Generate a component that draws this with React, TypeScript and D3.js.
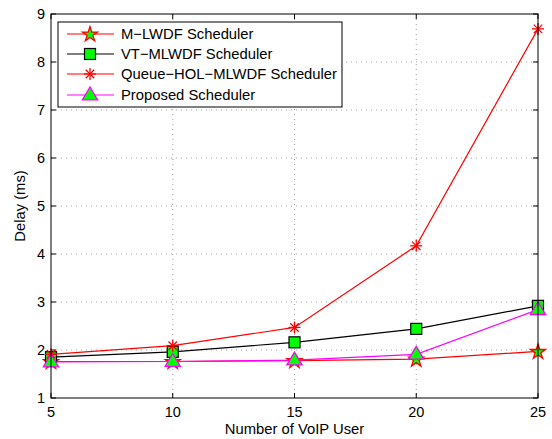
import React from "react";
import * as d3 from "d3";

const users = [5, 10, 15, 20, 25];
const mlwdf = [1.76, 1.76, 1.78, 1.81, 1.97];
const vtmlwdf = [1.85, 1.96, 2.16, 2.44, 2.92];
const queueHol = [1.91, 2.09, 2.47, 4.17, 8.69];
const proposed = [1.75, 1.76, 1.79, 1.91, 2.84];
const xTicks = [5, 10, 15, 20, 25];
const yTicks = [1, 2, 3, 4, 5, 6, 7, 8, 9];
const seriesNames = [
  "M\u2212LWDF Scheduler",
  "VT\u2212MLWDF Scheduler",
  "Queue\u2212HOL\u2212MLWDF Scheduler",
  "Proposed Scheduler",
];

const W = 552, H = 439;
const L = 51, R = 538, T = 14, B = 398;
const FONT = "Liberation Sans, Arial, sans-serif";

type Marker = "star" | "square" | "asterisk" | "triangle";

function MarkerShape({ kind, x, y, stroke }: { kind: Marker; x: number; y: number; stroke: string }) {
  if (kind === "star") {
    const path = d3.symbol(d3.symbolStar, 70)() as string;
    return <path d={path} transform={`translate(${x},${y + 0.5})`} fill="#00ff00" stroke={stroke} strokeWidth={1.3} />;
  }
  if (kind === "square") {
    const s = 11;
    return <rect x={x - s / 2} y={y - s / 2} width={s} height={s} fill="#00ff00" stroke={stroke} strokeWidth={1.2} />;
  }
  if (kind === "triangle") {
    const r = 8;
    const pts = [[x, y - r], [x + r * 0.95, y + r * 0.6], [x - r * 0.95, y + r * 0.6]];
    return <polygon points={pts.map((p) => p.join(",")).join(" ")} fill="#00ff00" stroke={stroke} strokeWidth={1.3} />;
  }
  const r = 6;
  const lines: JSX.Element[] = [];
  for (let i = 0; i < 4; i++) {
    const a = (i * Math.PI) / 4;
    lines.push(
      <line key={i} x1={x - r * Math.cos(a)} y1={y - r * Math.sin(a)} x2={x + r * Math.cos(a)} y2={y + r * Math.sin(a)} stroke={stroke} strokeWidth={1.3} />
    );
  }
  return <g>{lines}</g>;
}

export default function App() {
  const x = d3.scaleLinear().domain([5, 25]).range([L, R]);
  const y = d3.scaleLinear().domain([1, 9]).range([B, T]);

  const series: { name: string; vals: number[]; color: string; mstroke: string; marker: Marker }[] = [
    { name: seriesNames[0], vals: mlwdf, color: "#ff0000", mstroke: "#ff0000", marker: "star" },
    { name: seriesNames[1], vals: vtmlwdf, color: "#000000", mstroke: "#000000", marker: "square" },
    { name: seriesNames[2], vals: queueHol, color: "#ff0000", mstroke: "#ff0000", marker: "asterisk" },
    { name: seriesNames[3], vals: proposed, color: "#ff00ff", mstroke: "#ff00ff", marker: "triangle" },
  ];

  const line = d3.line<number>().x((_, i) => x(users[i])).y((d) => y(d));

  const legX = 58, legY = 22, legW = 284, legH = 85;
  const rowY = [34, 54, 74, 95];

  return (
    <svg width={W} height={H} style={{ position: "absolute", left: 0, top: 0, background: "#fff" }}>
      <rect x={0} y={0} width={W} height={H} fill="#fff" />
      {xTicks.slice(1, -1).map((t) => (
        <line key={"gx" + t} x1={x(t)} x2={x(t)} y1={T} y2={B} stroke="#888" strokeWidth={0.8} strokeDasharray="1,4" />
      ))}
      {yTicks.slice(1, -1).map((t) => (
        <line key={"gy" + t} x1={L} x2={R} y1={y(t)} y2={y(t)} stroke="#888" strokeWidth={0.8} strokeDasharray="1,4" />
      ))}
      {xTicks.map((t) => (
        <g key={"tx" + t}>
          <line x1={x(t)} x2={x(t)} y1={B} y2={B - 5} stroke="#000" />
          <line x1={x(t)} x2={x(t)} y1={T} y2={T + 5} stroke="#000" />
          <text x={x(t)} y={B + 19} textAnchor="middle" fontFamily={FONT} fontSize={14.5}>{t}</text>
        </g>
      ))}
      {yTicks.map((t) => (
        <g key={"ty" + t}>
          <line x1={L} x2={L + 5} y1={y(t)} y2={y(t)} stroke="#000" />
          <line x1={R} x2={R - 5} y1={y(t)} y2={y(t)} stroke="#000" />
          <text x={L - 6} y={y(t) + 5} textAnchor="end" fontFamily={FONT} fontSize={14.5}>{t}</text>
        </g>
      ))}
      {series.map((s) => (
        <g key={s.name}>
          <path d={line(s.vals) as string} fill="none" stroke={s.color} strokeWidth={1.2} />
          {s.vals.map((v, i) => (
            <MarkerShape key={i} kind={s.marker} x={x(users[i])} y={y(v)} stroke={s.mstroke} />
          ))}
        </g>
      ))}
      <rect x={L} y={T} width={R - L} height={B - T} fill="none" stroke="#000" strokeWidth={1} />
      <rect x={legX} y={legY} width={legW} height={legH} fill="#fff" stroke="#000" strokeWidth={1} />
      {series.map((s, i) => (
        <g key={"leg" + i}>
          <line x1={67} x2={114} y1={rowY[i]} y2={rowY[i]} stroke={s.color} strokeWidth={1.2} />
          <MarkerShape kind={s.marker} x={90} y={rowY[i]} stroke={s.mstroke} />
          <text x={121} y={rowY[i] + 5} fontFamily={FONT} fontSize={14.8}>{s.name}</text>
        </g>
      ))}
      <text x={(L + R) / 2} y={434} textAnchor="middle" fontFamily={FONT} fontSize={14.8}>Number of VoIP User</text>
      <text transform={`translate(25,${(T + B) / 2}) rotate(-90)`} textAnchor="middle" fontFamily={FONT} fontSize={14.8}>Delay (ms)</text>
    </svg>
  );
}
